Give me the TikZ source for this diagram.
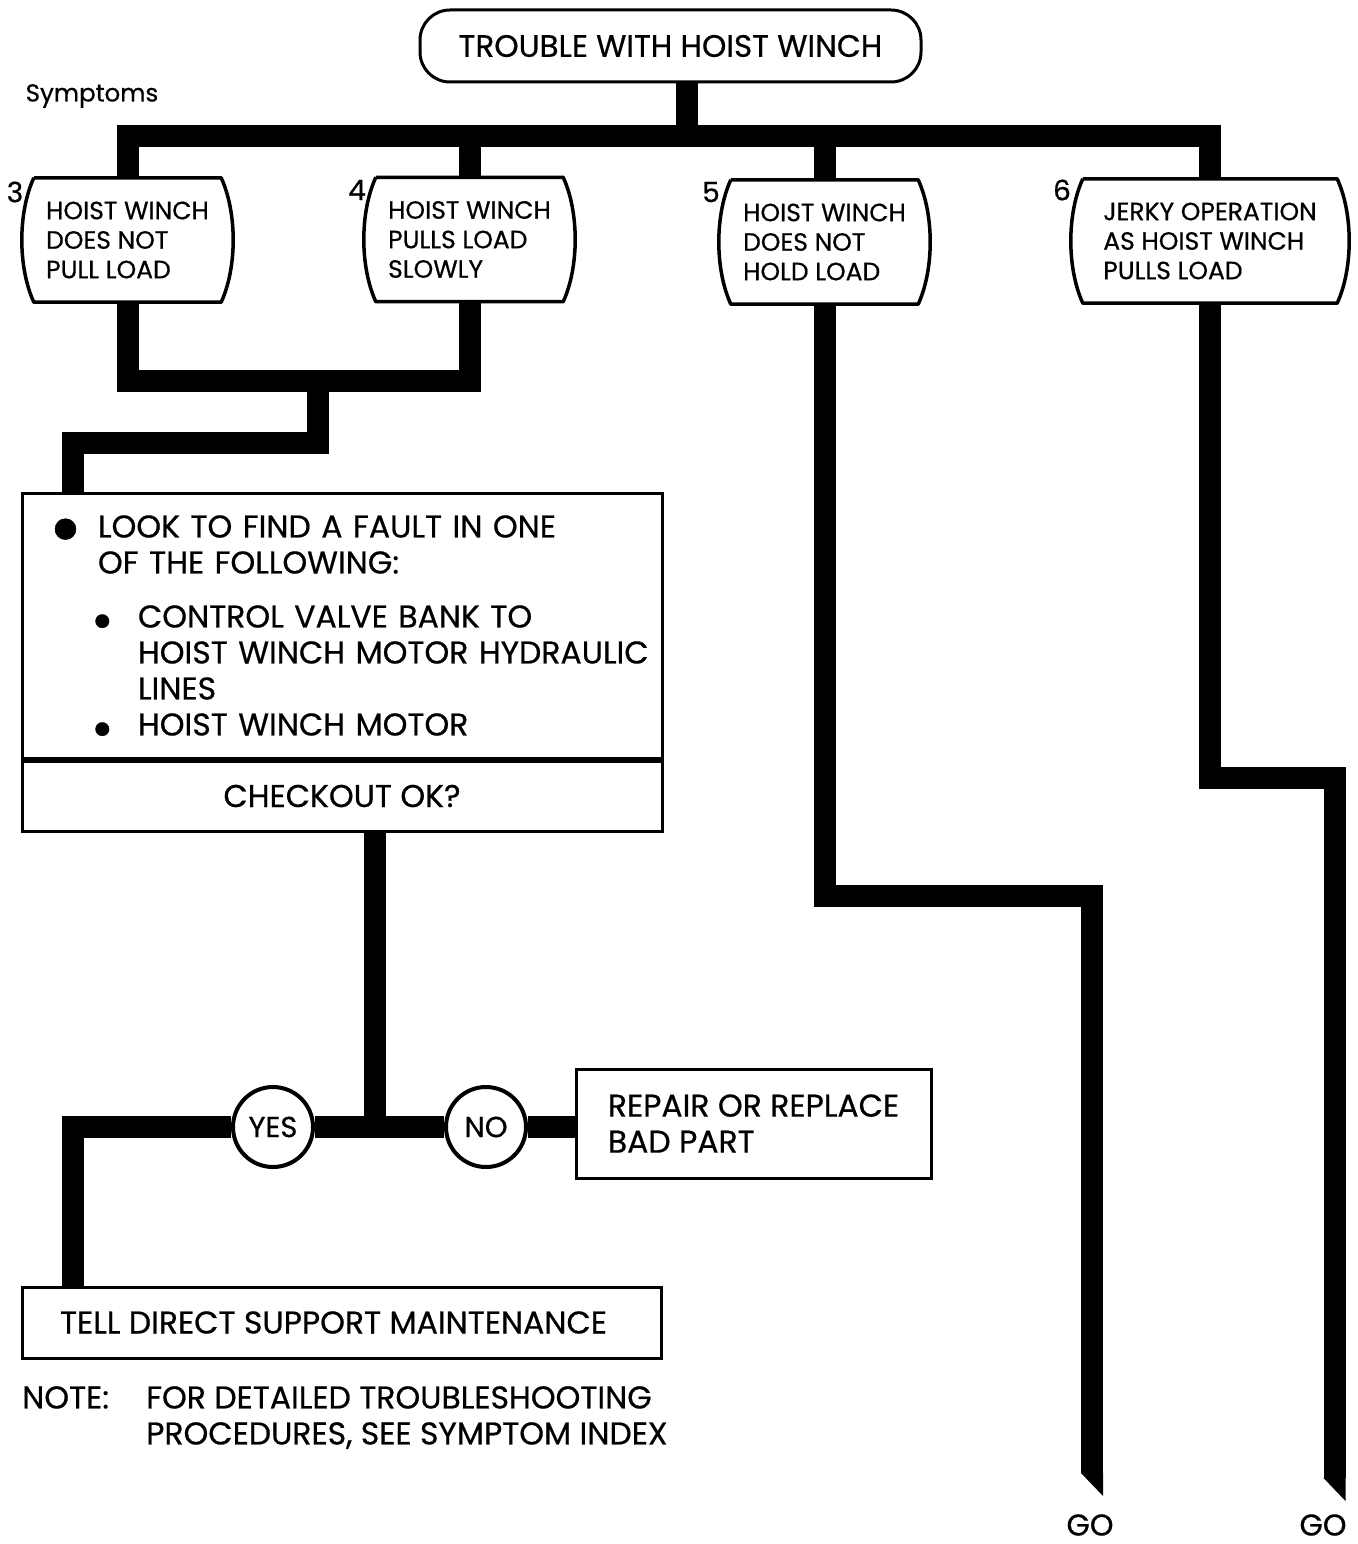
\documentclass[tikz,border=0pt]{standalone}
\usepackage{fontspec}
\setmainfont{Poppins}[FakeBold=0.6]
\usetikzlibrary{positioning}

\newcommand\bigbul{\makebox[50pt][l]{\raisebox{-20pt}[0pt][0pt]{\fontsize{85}{85}\selectfont\textbullet}}}
\newcommand\smallbul{\makebox[47pt][l]{\raisebox{-12pt}[0pt][0pt]{\fontsize{55}{55}\selectfont\textbullet}}}

\begin{document}
\begin{tikzpicture}[
    x=1pt, y=-1pt,
    wire/.style={line width=22pt, line join=miter},
    symptom node/.style={minimum height=124pt, align=left, inner sep=0pt, font=\fontsize{25}{29.5}\selectfont},
    plain box/.style={draw, line width=3pt, inner sep=0pt, font=\fontsize{31.5}{36}\selectfont},
    answer node/.style={circle, draw, fill=white, line width=4pt, minimum size=80pt, inner sep=0pt, font=\fontsize{29}{29}\selectfont},
    num/.style={inner sep=0pt, font=\fontsize{28}{28}\selectfont}
]
    \useasboundingbox (0,0) rectangle (1357,1544);

    % Start and symptoms
    \node[draw, line width=3pt, rounded corners=30pt, minimum width=501pt, minimum height=72pt, font=\fontsize{31}{31}\selectfont] (trouble) at (670.5,46) {TROUBLE WITH HOIST WINCH};
    \node[inner sep=0pt, font=\fontsize{24.5}{24.5}\selectfont] (symp) at (92,96) {Symptoms};

    \node[symptom node, minimum width=187pt] (s3) at (127.5,240) {HOIST WINCH\\DOES NOT\\PULL LOAD};
    \node[symptom node, minimum width=187pt] (s4) at (469.5,239.5) {HOIST WINCH\\PULLS LOAD\\SLOWLY};
    \node[symptom node, minimum width=187pt] (s5) at (824.5,242) {HOIST WINCH\\DOES NOT\\HOLD LOAD};
    \node[symptom node, minimum width=254pt] (s6) at (1210,241) {JERKY OPERATION\\AS HOIST WINCH\\PULLS LOAD};
    \foreach \s in {s3,s4,s5,s6}
        \draw[line width=3.5pt, line join=round] (\s.north west) -- (\s.north east)
            .. controls +(16,35) and +(16,-35) .. (\s.south east) -- (\s.south west)
            .. controls +(-16,-35) and +(-16,35) .. (\s.north west);

    \node[num] (n3) at (15,192) {3};
    \node[num] (n4) at (357,190) {4};
    \node[num] (n5) at (711,192) {5};
    \node[num] (n6) at (1062,190) {6};

    % Checks
    \node[plain box, minimum width=640pt, minimum height=265pt, text width=640pt, align=left] (look) at (342,625.5) {%
        \hspace*{26pt}\bigbul LOOK TO FIND A FAULT IN ONE\\
        \hspace*{76pt}OF THE FOLLOWING:\\[18pt]
        \hspace*{69pt}\smallbul CONTROL VALVE BANK TO\\
        \hspace*{116pt}\mbox{HOIST WINCH MOTOR HYDRAULIC}\\
        \hspace*{116pt}LINES\\
        \hspace*{69pt}\smallbul HOIST WINCH MOTOR};
    \node[plain box, minimum width=640pt, minimum height=70pt, below=0pt of look] (check) {CHECKOUT OK?};

    \node[answer node] (yes) at (273,1127) {YES};
    \node[answer node] (no) at (486,1127) {NO};
    \node[plain box, minimum width=355pt, minimum height=109pt, align=left] (repair) at (753.5,1123.5) {REPAIR OR REPLACE\\BAD PART};
    \node[plain box, minimum width=639pt, minimum height=71pt] (tell) at (341.5,1322.5) {TELL DIRECT SUPPORT MAINTENANCE\hspace*{16pt}};
    \node[anchor=north west, inner sep=0pt, align=left, font=\fontsize{31.5}{36}\selectfont] (note) at (22,1386) {%
        \makebox[124pt][l]{NOTE:}FOR DETAILED TROUBLESHOOTING\\
        \hspace*{124pt}PROCEDURES, SEE SYMPTOM INDEX};

    \node[num, font=\fontsize{30}{30}\selectfont] (go5) at (1090,1525) {GO};
    \node[num, font=\fontsize{30}{30}\selectfont] (go6) at (1323,1525) {GO};

    % Wires
    \coordinate (bar) at (0,136);
    \draw[wire] ([xshift=16pt]trouble.south) -- ([xshift=16pt]trouble.south |- bar);
    \draw[wire] (s3.north) |- (s6.north |- bar) -- (s6.north);
    \draw[wire] (s4.north) -- (s4.north |- bar);
    \draw[wire] (s5.north) -- (s5.north |- bar);

    \coordinate (m1) at (318,381);
    \draw[wire] (s3.south) |- (m1 -| s4.south) -- (s4.south);
    \draw[wire] (m1) -- (m1 |- 0,443) -| ([xshift=52pt]look.north west);

    \coordinate (j2) at (375,1127);
    \draw[wire] (check.south -| j2) -- (j2);
    \draw[wire] (repair.west |- no) -- (no.east);
    \draw[wire] (no.west) -- (yes.east);
    \draw[wire] (yes.west) -| ([xshift=52pt]tell.north west);

    \coordinate (end5) at (1092,1473);
    \coordinate (end6) at (1334.5,1478);
    \draw[wire] (s5.south) -- (s5.south |- 0,896) -| (end5);
    \draw[wire] (s6.south) -- (s6.south |- 0,778) -| (end6);
    \foreach \e in {end5,end6}
        \fill (\e) ++(-11,0) -- ++(22,0) -- ++(0,23) -- cycle;
\end{tikzpicture}
\end{document}
